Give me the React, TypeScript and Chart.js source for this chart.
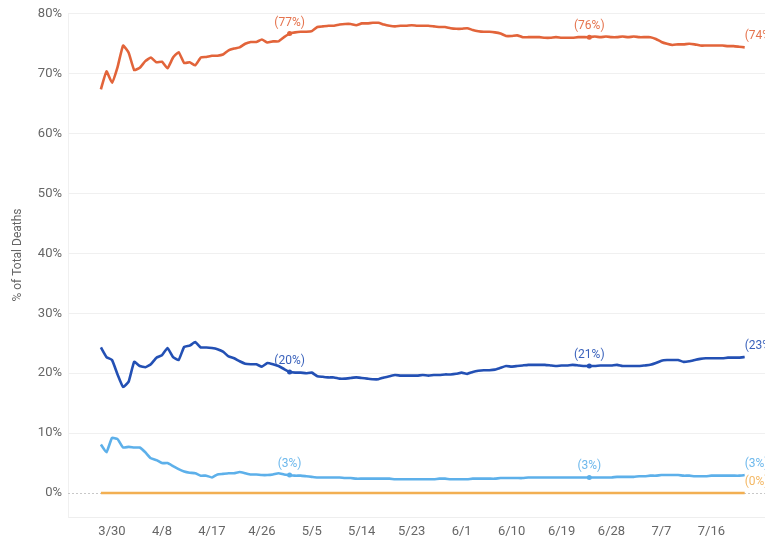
import React, { useEffect, useRef } from "react";
import { Chart, registerables } from "chart.js";

Chart.register(...registerables);

const startDate = { year: 2020, month: 2, day: 28 };
const dayCount = 117;
const dateLabels: string[] = Array.from({ length: dayCount }, (_, i) => {
  const d = new Date(Date.UTC(startDate.year, startDate.month, startDate.day + i));
  return `${d.getUTCMonth() + 1}/${d.getUTCDate()}`;
});

const tickIndices = [2, 11, 20, 29, 38, 47, 56, 65, 74, 83, 92, 101, 110];
const yTicks = [0, 10, 20, 30, 40, 50, 60, 70, 80];
const yTitle = "% of Total Deaths";

const orangeSeries = [
  67.4, 70.4, 68.5, 71.1, 74.7, 73.5, 70.6, 71.0, 72.1, 72.7, 71.9, 72.0, 70.9, 72.7, 73.6, 71.8, 71.9, 71.4, 72.7, 72.8,
  73.0, 73.0, 73.2, 73.9, 74.2, 74.4, 75.0, 75.3, 75.3, 75.7, 75.2, 75.4, 75.4, 76.1, 76.7, 76.9, 77.0, 77.0, 77.1, 77.8,
  77.9, 78.0, 78.0, 78.2, 78.3, 78.3, 78.1, 78.4, 78.4, 78.5, 78.5, 78.2, 78.0, 77.9, 78.0, 78.0, 78.1, 78.0, 78.0, 78.0,
  77.9, 77.8, 77.8, 77.6, 77.5, 77.5, 77.6, 77.3, 77.1, 77.0, 77.0, 76.9, 76.7, 76.3, 76.3, 76.4, 76.1, 76.1, 76.1, 76.1,
  76.0, 76.0, 76.1, 76.0, 76.0, 76.0, 76.1, 76.1, 76.1, 76.2, 76.1, 76.2, 76.1, 76.1, 76.2, 76.1, 76.2, 76.1, 76.1, 76.1,
  75.8, 75.3, 75.0, 74.8, 74.9, 74.9, 75.0, 74.9, 74.7, 74.7, 74.7, 74.7, 74.7, 74.6, 74.6, 74.5, 74.4,
];

const darkBlueSeries = [
  24.3, 22.7, 22.2, 19.8, 17.7, 18.6, 21.9, 21.2, 21.0, 21.5, 22.6, 23.0, 24.2, 22.7, 22.2, 24.4, 24.6, 25.2, 24.3, 24.3,
  24.2, 24.0, 23.6, 22.8, 22.5, 22.0, 21.6, 21.5, 21.5, 21.1, 21.7, 21.5, 21.2, 20.7, 20.2, 20.1, 20.1, 20.0, 20.1, 19.5,
  19.4, 19.3, 19.3, 19.1, 19.1, 19.2, 19.3, 19.2, 19.1, 19.0, 19.0, 19.3, 19.5, 19.7, 19.6, 19.6, 19.6, 19.6, 19.7, 19.6,
  19.7, 19.7, 19.8, 19.8, 19.9, 20.1, 19.9, 20.2, 20.4, 20.5, 20.5, 20.6, 20.9, 21.2, 21.1, 21.2, 21.3, 21.4, 21.4, 21.4,
  21.4, 21.3, 21.2, 21.3, 21.3, 21.4, 21.3, 21.2, 21.2, 21.2, 21.3, 21.3, 21.3, 21.4, 21.2, 21.2, 21.2, 21.2, 21.3, 21.4,
  21.7, 22.1, 22.2, 22.2, 22.2, 21.9, 22.0, 22.2, 22.4, 22.5, 22.5, 22.5, 22.5, 22.6, 22.6, 22.6, 22.7,
];

const lightBlueSeries = [
  8.1, 6.8, 9.2, 9.0, 7.6, 7.7, 7.6, 7.6, 6.8, 5.8, 5.5, 5.0, 5.0, 4.5, 4.0, 3.6, 3.4, 3.3, 2.9, 2.9,
  2.6, 3.1, 3.2, 3.3, 3.3, 3.5, 3.3, 3.1, 3.1, 3.0, 3.0, 3.1, 3.3, 3.1, 3.0, 2.9, 2.9, 2.8, 2.7, 2.6,
  2.6, 2.6, 2.6, 2.6, 2.5, 2.5, 2.4, 2.4, 2.4, 2.4, 2.4, 2.4, 2.4, 2.3, 2.3, 2.3, 2.3, 2.3, 2.3, 2.3,
  2.3, 2.4, 2.4, 2.3, 2.3, 2.3, 2.3, 2.4, 2.4, 2.4, 2.4, 2.4, 2.5, 2.5, 2.5, 2.5, 2.5, 2.6, 2.6, 2.6,
  2.6, 2.6, 2.6, 2.6, 2.6, 2.6, 2.6, 2.6, 2.6, 2.6, 2.6, 2.6, 2.6, 2.7, 2.7, 2.7, 2.7, 2.8, 2.8, 2.9,
  2.9, 3.0, 3.0, 3.0, 3.0, 2.9, 2.9, 2.8, 2.8, 2.8, 2.9, 2.9, 2.9, 2.9, 2.9, 2.9, 3.0,
];

const yellowSeries = Array.from({ length: dayCount }, () => 0);

const seriesList = [
  { name: "orange", values: orangeSeries, color: "#E2643A", labelAt: [34, 88, 116], markers: [34, 88] },
  { name: "darkBlue", values: darkBlueSeries, color: "#2350B4", labelAt: [34, 88, 116], markers: [34, 88] },
  { name: "lightBlue", values: lightBlueSeries, color: "#5DB0EA", labelAt: [34, 88, 116], markers: [34, 88] },
  { name: "yellow", values: yellowSeries, color: "#F2AF52", labelAt: [116], markers: [] as number[] },
];

const FONT = "Roboto, 'Noto Sans', sans-serif";

const labelPlugin = {
  id: "pointLabels",
  beforeDatasetsDraw(chart: any) {
    const { ctx, chartArea, scales } = chart;
    const y0 = scales.y.getPixelForValue(0);
    ctx.save();
    ctx.strokeStyle = "#c8c8c8";
    ctx.lineWidth = 1;
    ctx.setLineDash([2, 2]);
    ctx.beginPath();
    ctx.moveTo(chartArea.left, Math.round(y0) + 0.5);
    ctx.lineTo(chartArea.right, Math.round(y0) + 0.5);
    ctx.stroke();
    ctx.restore();
  },
  afterDatasetsDraw(chart: any) {
    const { ctx } = chart;
    ctx.save();
    ctx.font = `12px ${FONT}`;
    ctx.textBaseline = "middle";
    seriesList.forEach((s, di) => {
      const meta = chart.getDatasetMeta(di);
      s.labelAt.forEach((idx) => {
        const el = meta.data[idx];
        if (!el) return;
        const last = idx === s.values.length - 1;
        ctx.fillStyle = s.color;
        ctx.globalAlpha = 0.9;
        ctx.textAlign = last ? "left" : "center";
        ctx.fillText(`(${Math.round(s.values[idx])}%)`, el.x, el.y - 11);
      });
    });
    ctx.restore();
  },
  afterDraw(chart: any) {
    const { ctx } = chart;
    ctx.save();
    ctx.font = `12px ${FONT}`;
    ctx.fillStyle = "#666666";
    ctx.textAlign = "center";
    ctx.textBaseline = "middle";
    ctx.translate(18, 255);
    ctx.rotate(-Math.PI / 2);
    ctx.fillText(yTitle, 0, 0);
    ctx.restore();
  },
};

export default function App() {
  const canvasRef = useRef<HTMLCanvasElement | null>(null);

  useEffect(() => {
    document.body.style.margin = "0";
    const canvas = canvasRef.current;
    if (!canvas) return;
    const chart = new Chart(canvas, {
      type: "line",
      data: {
        datasets: seriesList.map((s) => ({
          label: s.name,
          data: s.values.map((v, i) => ({ x: i, y: v })),
          borderColor: s.color,
          backgroundColor: s.color,
          borderWidth: 2.6,
          tension: 0.12,
          pointRadius: (c: any) => (s.markers.includes(c.dataIndex) ? 2.5 : 0),
          pointHoverRadius: 0,
          pointBorderWidth: 0,
          fill: false,
        })),
      },
      options: {
        animation: false,
        responsive: true,
        maintainAspectRatio: false,
        layout: { padding: { top: 8, right: 0, bottom: 0, left: 0 } },
        plugins: {
          legend: { display: false },
          tooltip: { enabled: false },
        },
        scales: {
          x: {
            type: "linear",
            min: -5.93,
            max: 119.66,
            afterBuildTicks: (scale: any) => {
              scale.ticks = tickIndices.map((v) => ({ value: v }));
            },
            afterFit: (scale: any) => {
              scale.height = 25;
            },
            ticks: {
              autoSkip: false,
              maxRotation: 0,
              padding: 7,
              color: "#666666",
              font: { family: FONT, size: 13 },
              callback: (v: any) => dateLabels[v as number] ?? "",
            },
            grid: { display: false, drawTicks: false },
            border: { display: true, color: "#eeeeee", width: 1 },
          },
          y: {
            min: -4,
            max: 80,
            afterBuildTicks: (scale: any) => {
              scale.ticks = yTicks.map((v) => ({ value: v }));
            },
            afterFit: (scale: any) => {
              scale.width = 68;
            },
            ticks: {
              padding: 6,
              color: "#666666",
              font: { family: FONT, size: 13 },
              callback: (v: any) => `${v}%`,
            },
            grid: {
              drawTicks: false,
              color: (c: any) => (c.tick && c.tick.value === 0 ? "rgba(0,0,0,0)" : "#f0f0f0"),
              lineWidth: 1,
            },
            border: { display: true, color: "#f0f0f0", width: 1 },
          },
        },
      },
      plugins: [labelPlugin],
    });
    return () => chart.destroy();
  }, []);

  return (
    <div style={{ width: 765, height: 542, position: "relative" }}>
      <canvas ref={canvasRef} />
    </div>
  );
}
